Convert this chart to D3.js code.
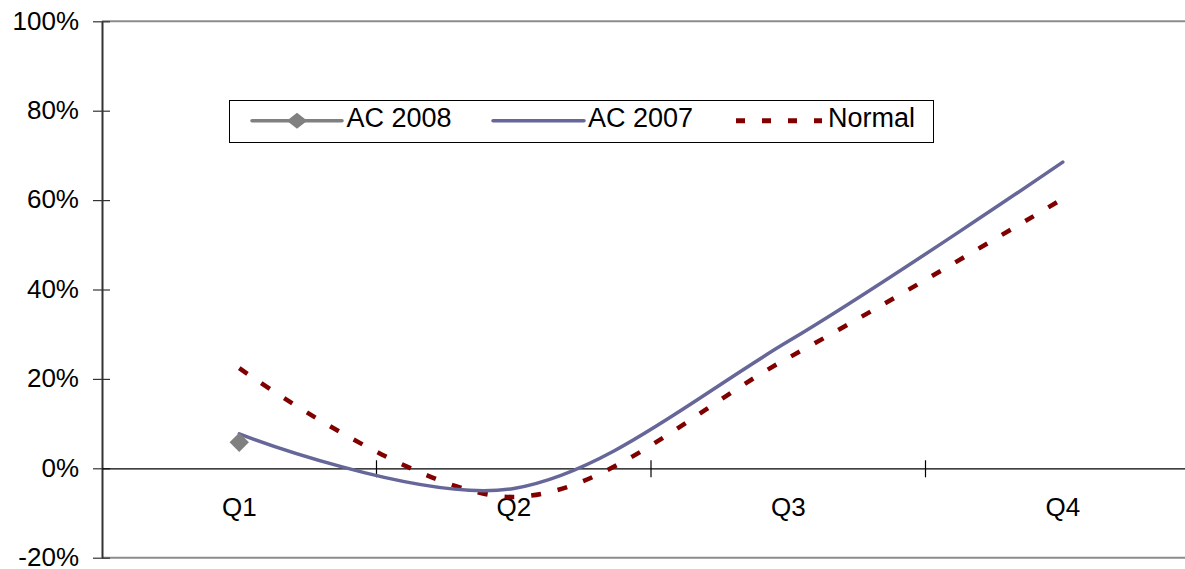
<!DOCTYPE html>
<html>
<head>
<meta charset="utf-8">
<script src="https://cdn.jsdelivr.net/npm/d3@7"></script>
<style>
  html, body { margin: 0; padding: 0; background: #fff; }
  svg { display: block; font-family: "Liberation Sans", Arial, sans-serif; }
</style>
</head>
<body>
<svg id="chart" width="1185" height="569"></svg>
<script>
const categories = ["Q1", "Q2", "Q3", "Q4"];
const ac2008 = [5.8];
const ac2007 = [7.7, -4.5, 28.4, 68.5];
const normal = [22.4, -6.4, 24.7, 60.3];
const yTicks = [-20, 0, 20, 40, 60, 80, 100];
const seriesNames = ["AC 2008", "AC 2007", "Normal"];

(function () {
const svg = d3.select("#chart");
const pLeft = 102, pRight = 1200, pTop = 21.3, pBottom = 557.7;

const x = d3.scaleBand().domain(categories).range([pLeft, pRight]).padding(0);
const cx = c => x(c) + x.bandwidth() / 2;
const y = d3.scaleLinear().domain([-20, 100]).range([pBottom, pTop]);

// border lines (top/bottom) gray
svg.append("line").attr("x1", pLeft).attr("x2", pRight).attr("y1", y(100)).attr("y2", y(100))
  .attr("stroke", "#8c8c8c").attr("stroke-width", 2);
svg.append("line").attr("x1", pLeft).attr("x2", pRight).attr("y1", y(-20)).attr("y2", y(-20))
  .attr("stroke", "#8c8c8c").attr("stroke-width", 2);

// Y axis
const yAxis = svg.append("g").attr("transform", `translate(${pLeft},0)`)
  .call(d3.axisLeft(y).tickValues(yTicks).tickFormat(d => d + "%").tickSize(9).tickPadding(14).tickSizeOuter(0));
yAxis.select(".domain").attr("stroke", "#333").attr("stroke-width", 2);
yAxis.selectAll(".tick line").attr("stroke", "#333").attr("stroke-width", 1.2);
yAxis.selectAll(".tick").append("line").attr("x1", 0).attr("x2", 8).attr("stroke", "#333").attr("stroke-width", 1.2);
yAxis.selectAll("text").attr("font-size", 26).attr("fill", "#000").attr("dy", "0.3em")
  .attr("font-family", "'Liberation Sans', Arial, sans-serif");

// X axis at zero
const xAxis = svg.append("g").attr("transform", `translate(0,${y(0)})`)
  .call(d3.axisBottom(x).tickSize(0).tickSizeOuter(0).tickPadding(29));
xAxis.select(".domain").attr("stroke", "#000").attr("stroke-width", 1.2);
xAxis.selectAll("text").attr("font-size", 26).attr("fill", "#000")
  .attr("font-family", "'Liberation Sans', Arial, sans-serif");
// boundary ticks
const bounds = categories.map(c => x(c)).concat([x(categories[categories.length - 1]) + x.bandwidth()]).slice(1);
svg.append("g").selectAll("line").data(bounds).join("line")
  .attr("x1", d => d).attr("x2", d => d)
  .attr("y1", y(0) - 8).attr("y2", y(0) + 9)
  .attr("stroke", "#000").attr("stroke-width", 1.2);

const line = d3.line().x(d => cx(d.c)).y(d => y(d.v)).curve(d3.curveCardinal.tension(0));

// Normal
svg.append("path").datum(categories.map((c, i) => ({c, v: normal[i]})))
  .attr("d", line).attr("fill", "none").attr("stroke", "#800000")
  .attr("stroke-width", 4.5).attr("stroke-dasharray", "10,17");

// AC 2007
svg.append("path").datum(categories.map((c, i) => ({c, v: ac2007[i]})))
  .attr("d", line).attr("fill", "none").attr("stroke", "#666699")
  .attr("stroke-width", 3.5).attr("stroke-linecap", "round");

// AC 2008
const diamond = d3.symbol().type(d3.symbolDiamond2);
svg.append("path").datum(categories.slice(0, ac2008.length).map((c, i) => ({c, v: ac2008[i]})))
  .attr("d", line).attr("fill", "none").attr("stroke", "#808080").attr("stroke-width", 3.5);
svg.append("g").selectAll("path").data(ac2008.map((v, i) => ({c: categories[i], v})))
  .join("path")
  .attr("d", diamond.size(240))
  .attr("transform", d => `translate(${cx(d.c)},${y(d.v)})`)
  .attr("fill", "#808080");

// Legend
const lg = svg.append("g");
lg.append("rect").attr("x", 229.5).attr("y", 100.5).attr("width", 704).attr("height", 42)
  .attr("fill", "#fff").attr("stroke", "#000").attr("stroke-width", 1);
const ly = 120.7;
const items = [
  {name: seriesNames[0], x1: 252, x2: 342, color: "#808080", dash: null, w: 3.5, marker: true, tx: 346.5},
  {name: seriesNames[1], x1: 493, x2: 584, color: "#666699", dash: null, w: 3.5, marker: false, tx: 588},
  {name: seriesNames[2], x1: 736, x2: 822, color: "#800000", dash: "9,17", w: 5, marker: false, tx: 828}
];
items.forEach(it => {
  lg.append("line").attr("x1", it.x1).attr("x2", it.x2).attr("y1", ly).attr("y2", ly)
    .attr("stroke", it.color).attr("stroke-width", it.w)
    .attr("stroke-dasharray", it.dash).attr("stroke-linecap", it.dash ? "butt" : "round");
  if (it.marker) {
    lg.append("path").attr("d", diamond.size(200))
      .attr("transform", `translate(${(it.x1 + it.x2) / 2},${ly}) scale(1.15,0.9)`).attr("fill", it.color);
  }
  lg.append("text").attr("x", it.tx).attr("y", 126.6)
    .attr("font-size", 27).attr("fill", "#000").text(it.name);
});
})();
</script>
</body>
</html>
